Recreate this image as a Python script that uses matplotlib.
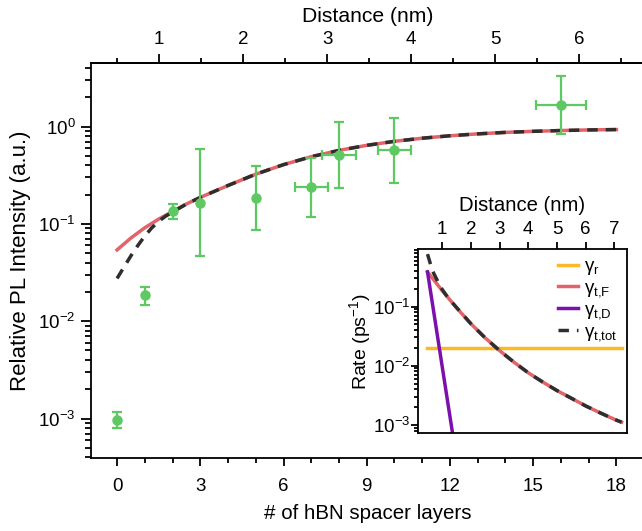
import numpy as np
import matplotlib
matplotlib.use("Agg")
import matplotlib.pyplot as plt
from matplotlib.ticker import (LogLocator, MultipleLocator, NullLocator, NullFormatter,
                               FixedLocator)

plt.rcParams["font.family"] = ["Liberation Sans", "DejaVu Sans"]
plt.rcParams["mathtext.fontset"] = "custom"
plt.rcParams["mathtext.rm"] = "Liberation Sans"
plt.rcParams["mathtext.it"] = "Liberation Sans:italic"
plt.rcParams["mathtext.bf"] = "Liberation Sans:bold"

# layer number -> distance (nm)
D0 = 0.5
D_PER_LAYER = 0.33

# measured relative PL vs number of hBN layers
layers = [0, 1, 2, 3, 5, 7, 8, 10, 16]
pl = [0.00096, 0.0184, 0.134, 0.165, 0.184, 0.238, 0.51, 0.573, 1.67]
pl_low = [0.0008, 0.0146, 0.113, 0.047, 0.0855, 0.119, 0.236, 0.263, 0.84]
pl_high = [0.00116, 0.0225, 0.159, 0.583, 0.39, 0.478, 1.12, 1.22, 3.34]
layers_err = [0, 0, 0, 0, 0, 0.6, 0.6, 0.6, 0.9]

# model curves in the main panel
fit_n = [0, 0.5, 1, 1.5, 2, 2.5, 3, 4, 5, 6, 7, 8, 9, 10, 11, 12, 13, 14, 15, 16, 17, 18]
fit_F = [0.054, 0.0716, 0.0912, 0.112, 0.134, 0.16, 0.187, 0.248, 0.324, 0.406, 0.49,
         0.569, 0.641, 0.705, 0.759, 0.804, 0.841, 0.871, 0.893, 0.910, 0.923, 0.931]
tot_n = [0, 0.25, 0.5, 0.75, 1, 1.25, 1.5, 1.75, 2, 2.5, 3, 4, 5, 6, 7, 8, 9,
         10, 11, 12, 13, 14, 15, 16, 17, 18]
fit_tot = [0.0275, 0.036, 0.047, 0.060, 0.075, 0.091, 0.106, 0.12, 0.132, 0.16,
           0.187, 0.248, 0.324, 0.406, 0.49, 0.569, 0.641, 0.705, 0.759, 0.804,
           0.841, 0.871, 0.893, 0.910, 0.923, 0.931]

# inset: rates vs distance
rate_d = [0.49, 0.75, 1.0, 1.5, 2.0, 2.5, 3.0, 3.5, 4.0, 4.5, 5.0, 5.5, 6.0, 6.5, 7.0, 7.25]
rate_F = [0.385, 0.266, 0.186, 0.0955, 0.0513, 0.0295, 0.018, 0.01148, 0.00759,
          0.00531, 0.0038, 0.00282, 0.00209, 0.0016, 0.00124, 0.00111]
rate_r_d = [0.47, 7.25]
rate_r = [0.02, 0.02]
rate_D_d = [0.49, 1.40]
rate_D = [0.385, 0.00055]
tot_d = [0.49, 0.6, 0.7, 0.8, 0.9, 1.0, 1.2, 1.5, 2.0, 2.5, 3.0, 3.5, 4.0, 4.5,
         5.0, 5.5, 6.0, 6.5, 7.0, 7.25]
rate_tot = [0.77, 0.508, 0.37, 0.296, 0.235, 0.195, 0.142, 0.0965, 0.0513, 0.0295,
            0.018, 0.01148, 0.00759, 0.00531, 0.0038, 0.00282, 0.00209, 0.0016,
            0.00124, 0.00111]

GREEN = "#5ec862"
RED = "#e06468"
DARK = "#2e2e2e"
YELLOW = "#fdb827"
PURPLE = "#7d10ad"
FS = 13.5

fig = plt.figure(figsize=(6.42, 5.31), dpi=100)
ax = fig.add_axes([0.1413, 0.1369, 0.862, 0.7445])

ax.plot(fit_n, fit_F, "-", color=RED, lw=2.5, zorder=2)
ax.plot(tot_n, fit_tot, "--", color=DARK, lw=2.5, dashes=(3, 2.3), zorder=3)
pl_a = np.array(pl)
yerr = [pl_a - np.array(pl_low), np.array(pl_high) - pl_a]
ax.errorbar(layers, pl, yerr=yerr, xerr=layers_err, fmt="o", color=GREEN, ms=6.5,
            elinewidth=1.6, capsize=3.5, capthick=1.6, zorder=4)

ax.set_yscale("log")
ax.set_xlim(-0.95, 19)
ax.set_ylim(3.9e-4, 4.5)
ax.xaxis.set_major_locator(MultipleLocator(3))
ax.xaxis.set_minor_locator(MultipleLocator(1))
ax.yaxis.set_major_locator(LogLocator(base=10, numticks=10))
ax.yaxis.set_minor_locator(LogLocator(base=10, subs=np.arange(2, 10), numticks=20))
ax.yaxis.set_minor_formatter(NullFormatter())
ax.set_xlabel("# of hBN spacer layers", fontsize=14.8, labelpad=7)
ax.set_ylabel("Relative PL Intensity (a.u.)", fontsize=16, labelpad=5)
ax.tick_params(axis="both", which="both", direction="out", width=1.3, labelsize=FS)
ax.tick_params(axis="x", which="major", length=6, pad=8)
ax.tick_params(axis="x", which="minor", length=3.5)
ax.tick_params(axis="y", which="major", length=7.5)
ax.tick_params(axis="y", which="minor", length=4.5)
for s in ax.spines.values():
    s.set_linewidth(1.3)

top = ax.secondary_xaxis("top", functions=(lambda n: D0 + D_PER_LAYER * n,
                                           lambda d: (d - D0) / D_PER_LAYER))
top.xaxis.set_major_locator(FixedLocator([1, 2, 3, 4, 5, 6]))
top.xaxis.set_minor_locator(FixedLocator([0.5, 1.5, 2.5, 3.5, 4.5, 5.5, 6.5]))
top.tick_params(axis="x", which="major", length=6.5, width=1.3, labelsize=FS, pad=4)
top.tick_params(axis="x", which="minor", length=3.5, width=1.3)
top.set_xlabel("Distance (nm)", fontsize=15.2, labelpad=7)
top.spines["top"].set_linewidth(1.3)

# inset
ins = fig.add_axes([0.6516, 0.184, 0.3246, 0.3471])
ins.plot(rate_r_d, rate_r, "-", color=YELLOW, lw=2.5, label="γ$_\\mathrm{r}$")
ins.plot(rate_d, rate_F, "-", color=RED, lw=2.5, label="γ$_\\mathrm{t{,}F}$")
ins.plot(rate_D_d, rate_D, "-", color=PURPLE, lw=2.5, label="γ$_\\mathrm{t{,}D}$")
ins.plot(tot_d, rate_tot, "--", color=DARK, lw=2.5, dashes=(3, 2.3),
         label="γ$_\\mathrm{t{,}tot}$")
ins.set_yscale("log")
ins.set_xlim(0.17, 7.43)
ins.set_ylim(7.2e-4, 0.94)
ins.xaxis.set_major_locator(MultipleLocator(1))
ins.xaxis.set_minor_locator(NullLocator())
ins.xaxis.tick_top()
ins.xaxis.set_label_position("top")
ins.yaxis.set_major_locator(LogLocator(base=10, numticks=10))
ins.yaxis.set_minor_locator(LogLocator(base=10, subs=np.arange(2, 10), numticks=20))
ins.yaxis.set_minor_formatter(NullFormatter())
ins.tick_params(axis="both", which="both", direction="out", width=1.3, labelsize=FS)
ins.tick_params(axis="x", which="major", length=5, pad=3)
ins.tick_params(axis="y", which="major", length=5, pad=1)
ins.tick_params(axis="y", which="minor", length=3)
ins.set_xlabel("Distance (nm)", fontsize=14.6, labelpad=7)
ins.set_ylabel("Rate (ps$^{-1}$)", fontsize=14, labelpad=0)
for s in ins.spines.values():
    s.set_linewidth(1.3)
ins.legend(loc="upper right", frameon=False, fontsize=FS, handlelength=1.1,
           handletextpad=0.3, labelspacing=0.12, borderaxespad=0.3, borderpad=0.2)

fig.savefig("out.png", dpi=100)
